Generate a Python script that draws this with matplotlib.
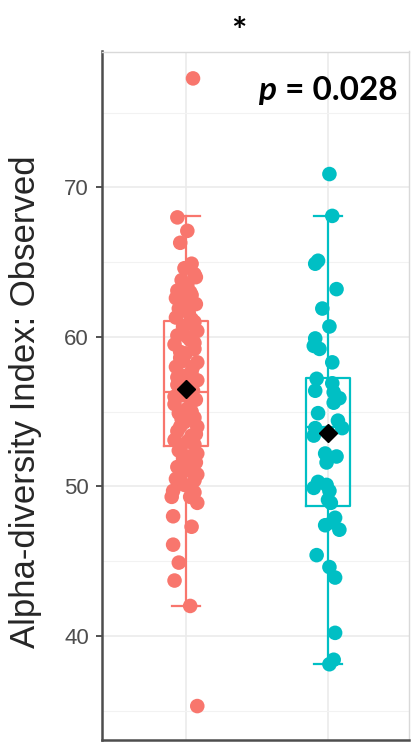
import numpy as np
import matplotlib
matplotlib.use("Agg")
import matplotlib.pyplot as plt

# ---------------- data ----------------
groups = ["A", "B"]
colors = ["#F8766D", "#00BFC4"]

red_vals = [77.3, 68.0, 67.1, 66.3, 64.9, 64.6, 64.2, 63.8, 63.5, 63.1, 62.8, 62.5,
            62.2, 61.9, 61.6, 61.3, 61.0, 60.7, 60.4, 60.1, 59.8, 59.5, 59.2, 58.9,
            58.6, 58.3, 58.0, 57.7, 57.4, 57.1, 56.8, 56.4, 56.1, 55.8, 55.5, 55.2,
            54.9, 54.6, 54.3, 54.0, 53.7, 53.4, 53.1, 52.8, 52.5, 52.2, 51.9, 51.6,
            51.3, 51.0, 50.7, 50.4, 50.1, 49.7, 49.3, 49.3, 48.9, 48.0, 47.3, 46.1,
            44.9, 43.7, 42.0, 35.3,
            63.0, 62.0, 61.2, 60.0, 59.0, 58.0, 57.0, 56.0, 55.0, 54.0, 53.0, 52.0,
            51.2, 50.8, 64.0, 62.6, 60.9, 59.6, 58.4, 57.3, 55.9, 54.5, 53.5, 52.4,
            51.4, 50.5, 49.6]
# horizontal jitter, in hundredths of the category spacing
red_jitter = [5, -6, 1, -4, 4, -1, 6, -3, 1, -6, 4, -1,
              7, -5, 2, -7, 6, -2, 8, -6, 3, -8, 6, 0,
              -4, 8, -7, 4, -2, 8, -6, 5, -3, 7, -8, 1,
              -5, 6, -1, 8, -6, 4, -8, 6, -4, 8, -2, 7,
              -6, 4, -4, 6, -1, -9, -10, 3, 8, -9, 4, -9,
              -5, -8, 3, 8,
              3, -2, 4, 1, -4, 5, 0, -8, 4, -4, 1, 2,
              0, 8, 7, -7, 2, 6, -2, -6, 3, -3, 7, -5,
              5, -7, 6]

teal_vals = [70.9, 68.1, 65.1, 64.9, 63.2, 61.9, 60.7, 59.9, 59.4, 59.2, 58.3,
             57.2, 56.9, 56.4, 56.3, 55.6, 54.9, 54.4, 53.9, 53.9, 53.4, 53.6,
             52.2, 51.6, 50.3, 50.1, 49.9, 49.7, 49.1, 48.9, 47.9, 47.4, 47.1,
             47.6, 45.4, 44.6, 43.9, 40.2, 38.4, 38.1, 55.9, 52.0]
teal_jitter = [1, 3, -7, -9, 6, -4, 1, -9, -10, -6, 3,
               -8, 3, -9, 4, 4, -7, 7, -9, 10, -10, 0,
               -2, -1, -7, -1, -10, 1, 0, 2, 5, -2, 8,
               3, -8, 1, 5, 5, 4, 1, 8, 6]

# box statistics
q1 = [52.7, 48.7]
med = [56.3, 54.0]
q3 = [61.1, 57.25]
whislo = [42.0, 38.1]
whishi = [68.1, 68.1]
means = [56.5, 53.6]

ylabel = "Alpha-diversity Index: Observed"
yticks = [40, 50, 60, 70]
pval_text = " = 0.028"
sig_text = "*"

# ---------------- figure ----------------
W, H = 411, 743
fig = plt.figure(figsize=(W / 100, H / 100), dpi=100)
ax = fig.add_axes([101.5 / W, 3 / H, (409 - 101.5) / W, (740 - 51.5) / H])

ax.set_xlim(0.406, 2.57)
ax.set_ylim(33.03, 79.1)

# grid
ax.set_yticks(yticks)
ax.set_yticks([35, 45, 55, 65, 75], minor=True)
ax.set_xticks([1, 2])
ax.grid(True, which="major", color="#EBEBEB", lw=1.2, zorder=0)
ax.grid(True, which="minor", axis="y", color="#F2F2F2", lw=0.8, zorder=0)
ax.set_axisbelow(True)

# points
pos = [1, 2]
for p, vals, jit, c in [(1, red_vals, red_jitter, colors[0]),
                        (2, teal_vals, teal_jitter, colors[1])]:
    x = p + np.array(jit) / 100.0
    ax.scatter(x, vals, s=110, color=c, edgecolors="none", zorder=2)

# boxes
for i in range(2):
    c = colors[i]
    st = dict(q1=q1[i], med=med[i], q3=q3[i],
              whislo=whislo[i], whishi=whishi[i], fliers=[])
    ax.bxp([st], positions=[pos[i]], widths=0.31, showfliers=False,
           patch_artist=False, manage_ticks=False,
           boxprops=dict(color=c, lw=1.6),
           medianprops=dict(color=c, lw=1.6),
           whiskerprops=dict(color=c, lw=1.6),
           capprops=dict(color=c, lw=1.6),
           capwidths=0.2, zorder=3)

# means
ax.plot(pos, means, linestyle="none", marker="D", ms=9, color="black",
        markeredgecolor="black", zorder=4)

# spines / ticks
for s in ["top", "right"]:
    ax.spines[s].set_color("#D9D9D9")
    ax.spines[s].set_linewidth(1.0)
for s in ["left", "bottom"]:
    ax.spines[s].set_color("#4D4D4D")
    ax.spines[s].set_linewidth(1.8)
ax.tick_params(axis="y", which="major", length=4, width=1.2, color="#333333",
               labelsize=16, labelcolor="#4D4D4D", pad=5)
ax.tick_params(axis="y", which="minor", length=0)
ax.tick_params(axis="x", length=0, labelbottom=False)
for lab in ax.get_yticklabels():
    lab.set_fontfamily("Liberation Sans")

fig.text(26 / W, 1 - 402 / H, ylabel, rotation=90, ha="center", va="center",
         fontsize=25, family="Liberation Sans", color="#262626")

fig.text(239 / W, 1 - 32 / H, sig_text, ha="center", va="center",
         fontsize=26, fontweight="bold", family="Lato")

t = fig.text(397 / W, 1 - 100 / H, pval_text, ha="right", va="baseline",
             fontsize=24, fontweight="bold", family="Lato")
ax.annotate("p", xy=(0, 0), xycoords=t, ha="right", va="bottom",
            fontsize=24, fontweight="bold", fontstyle="italic", family="Lato")

fig.savefig("out.png", dpi=100)
